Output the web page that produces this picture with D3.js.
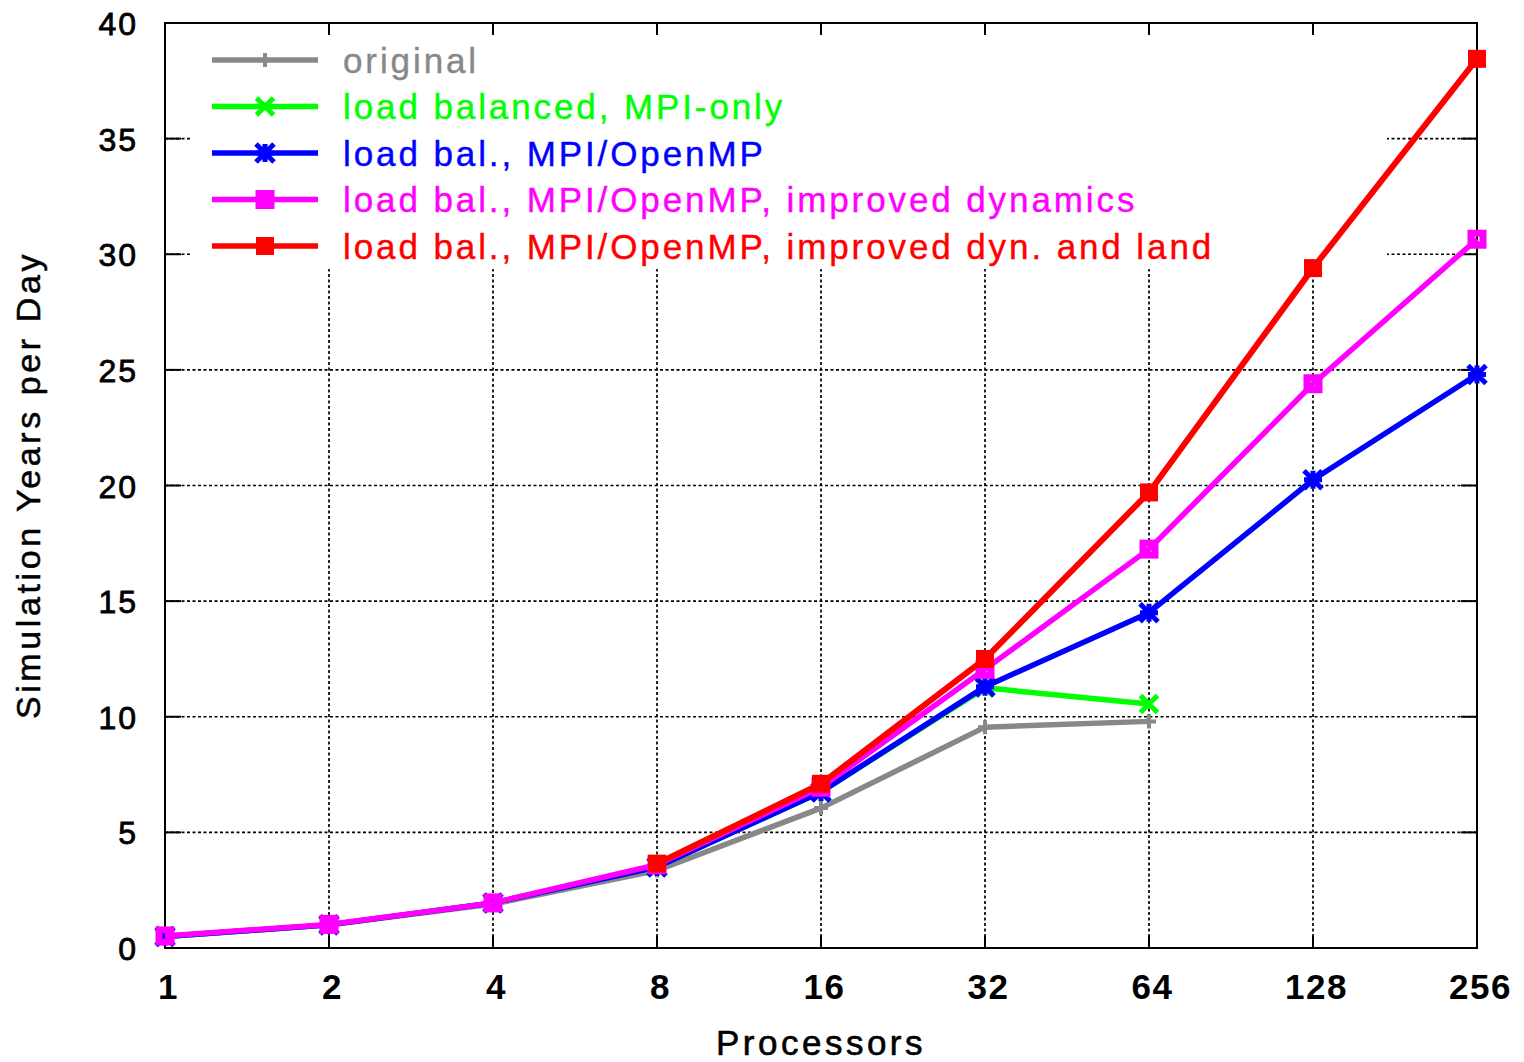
<!DOCTYPE html>
<html>
<head>
<meta charset="utf-8">
<script src="https://cdn.jsdelivr.net/npm/d3@7"></script>
<style>
html, body { margin: 0; padding: 0; background: #fff; }
svg { display: block; }
text { font-family: "Liberation Sans", Arial, sans-serif; }
</style>
</head>
<body>
<script>
// ---- data ----
const processors = [1, 2, 4, 8, 16, 32, 64, 128, 256];
const xTickLabels = ["1", "2", "4", "8", "16", "32", "64", "128", "256"];
const yTicks = [0, 5, 10, 15, 20, 25, 30, 35, 40];

const seriesNames = [
  "original",
  "load balanced, MPI-only",
  "load bal., MPI/OpenMP",
  "load bal., MPI/OpenMP, improved dynamics",
  "load bal., MPI/OpenMP, improved dyn. and land"
];
const seriesColors = ["#888888", "#00ff00", "#0000ff", "#ff00ff", "#ff0000"];
const seriesMarkers = ["plus", "cross", "star", "openbox", "box"];

const originalX = [1, 2, 4, 8, 16, 32, 64];
const originalY = [0.5, 1.0, 1.9, 3.35, 6.05, 9.55, 9.8];
const mpiOnlyX = [1, 2, 4, 8, 16, 32, 64];
const mpiOnlyY = [0.5, 1.0, 1.95, 3.5, 6.75, 11.25, 10.55];
const openmpX = [1, 2, 4, 8, 16, 32, 64, 128, 256];
const openmpY = [0.5, 1.0, 1.95, 3.5, 6.75, 11.3, 14.5, 20.25, 24.8];
const dynX = [1, 2, 4, 8, 16, 32, 64, 128, 256];
const dynY = [0.52, 1.02, 1.95, 3.6, 6.95, 12.05, 17.25, 24.4, 30.65];
const landX = [8, 16, 32, 64, 128, 256];
const landY = [3.65, 7.1, 12.5, 19.7, 29.4, 38.45];

const seriesX = [originalX, mpiOnlyX, openmpX, dynX, landX];
const seriesY = [originalY, mpiOnlyY, openmpY, dynY, landY];

// ---- layout ----
const W = 1524, H = 1062;
const L = 165, R = 1477, T = 23, B = 948;

const svg = d3.select("body").append("svg").attr("width", W).attr("height", H);

const x = d3.scaleLog().base(2).domain([1, 256]).range([L, R]);
const y = d3.scaleLinear().domain([0, 40]).range([B, T]);

// grid
const grid = svg.append("g").attr("stroke", "#000").attr("stroke-width", 1.7)
  .attr("stroke-dasharray", "3,2.5").attr("fill", "none");
processors.slice(1, -1).forEach(p => {
  grid.append("line").attr("x1", x(p)).attr("x2", x(p)).attr("y1", B).attr("y2", T);
});
yTicks.slice(1, -1).forEach(v => {
  grid.append("line").attr("x1", L).attr("x2", R).attr("y1", y(v)).attr("y2", y(v));
});

// key box mask
svg.append("rect").attr("x", 190).attr("y", T + 1).attr("width", 1387 - 190).attr("height", 268 - T)
  .attr("fill", "#fff");

// ticks (inward, all sides)
const ticks = svg.append("g").attr("stroke", "#000").attr("stroke-width", 2);
processors.forEach(p => {
  ticks.append("line").attr("x1", x(p)).attr("x2", x(p)).attr("y1", B).attr("y2", B - 12);
  ticks.append("line").attr("x1", x(p)).attr("x2", x(p)).attr("y1", T).attr("y2", T + 12);
});
yTicks.forEach(v => {
  ticks.append("line").attr("x1", L).attr("x2", L + 16).attr("y1", y(v)).attr("y2", y(v));
  ticks.append("line").attr("x1", R).attr("x2", R - 16).attr("y1", y(v)).attr("y2", y(v));
});

// frame
svg.append("rect").attr("x", L).attr("y", T).attr("width", R - L).attr("height", B - T)
  .attr("fill", "none").attr("stroke", "#000").attr("stroke-width", 2);

// axis labels via d3 axes (lines hidden)
const xAxis = svg.append("g").attr("transform", `translate(0,${B})`)
  .call(d3.axisBottom(x).tickValues(processors).tickFormat((d, i) => xTickLabels[i]).tickSize(0).tickPadding(0));
xAxis.select(".domain").remove();
xAxis.selectAll("text").attr("x", 3).attr("y", 51).attr("dy", null).attr("font-size", 35)
  .attr("font-weight", "bold").attr("fill", "#000").style("letter-spacing", "1.5px")
  .attr("font-family", "'Liberation Sans', Arial, sans-serif");

const yAxis = svg.append("g").attr("transform", `translate(${L},0)`)
  .call(d3.axisLeft(y).tickValues(yTicks).tickSize(0).tickPadding(0));
yAxis.select(".domain").remove();
yAxis.selectAll("text").attr("x", -27).attr("dy", "0.36em").attr("font-size", 32)
  .attr("fill", "#000").attr("stroke", "#000").attr("stroke-width", 0.8)
  .style("letter-spacing", "2px")
  .attr("font-family", "'Liberation Sans', Arial, sans-serif");

svg.append("text").attr("x", (L + R) / 2).attr("y", 1055).attr("text-anchor", "middle")
  .attr("font-size", 35).attr("fill", "#000").attr("stroke", "#000").attr("stroke-width", 0.6)
  .style("letter-spacing", "3.5px")
  .text("Processors");
svg.append("text").attr("transform", `translate(40,485) rotate(-90)`).attr("text-anchor", "middle")
  .attr("font-size", 34).attr("fill", "#000").attr("stroke", "#000").attr("stroke-width", 0.5)
  .style("letter-spacing", "3.6px")
  .text("Simulation Years per Day");

// markers
function drawMarker(g, type, cx, cy, color, s) {
  const h = s / 2;
  if (type === "plus") {
    g.append("path").attr("d", `M${cx - h},${cy}H${cx + h}M${cx},${cy - h}V${cy + h}`)
      .attr("stroke", color).attr("stroke-width", 4).attr("fill", "none");
  } else if (type === "cross") {
    g.append("path").attr("d", `M${cx - h},${cy - h}L${cx + h},${cy + h}M${cx - h},${cy + h}L${cx + h},${cy - h}`)
      .attr("stroke", color).attr("stroke-width", 5).attr("fill", "none");
  } else if (type === "star") {
    g.append("path").attr("d", `M${cx - h},${cy - h}L${cx + h},${cy + h}M${cx - h},${cy + h}L${cx + h},${cy - h}M${cx - h},${cy}H${cx + h}M${cx},${cy - h}V${cy + h}`)
      .attr("stroke", color).attr("stroke-width", 5).attr("fill", "none");
  } else if (type === "openbox") {
    g.append("rect").attr("x", cx - h + 3.5).attr("y", cy - h + 3.5).attr("width", s - 7).attr("height", s - 7)
      .attr("stroke", color).attr("stroke-width", 7).attr("fill", "none");
  } else {
    g.append("rect").attr("x", cx - h).attr("y", cy - h).attr("width", s).attr("height", s)
      .attr("fill", color);
  }
}

const line = d3.line().x(d => x(d[0])).y(d => y(d[1]));
const markerSizes = [14, 17, 18, 19, 18];
const lineWidths = [5.5, 5.5, 5.5, 5.5, 6];

seriesNames.forEach((name, i) => {
  const g = svg.append("g");
  const pts = seriesX[i].map((v, j) => [v, seriesY[i][j]]);
  g.append("path").datum(pts).attr("d", line).attr("fill", "none")
    .attr("stroke", seriesColors[i]).attr("stroke-width", lineWidths[i])
    .attr("stroke-linejoin", "round");
  pts.forEach(p => drawMarker(g, seriesMarkers[i], x(p[0]), y(p[1]), seriesColors[i], markerSizes[i]));
});

// legend
const legendY0 = 60, legendDy = 46.5;
seriesNames.forEach((name, i) => {
  const ly = legendY0 + i * legendDy;
  const g = svg.append("g");
  g.append("line").attr("x1", 212).attr("x2", 318).attr("y1", ly).attr("y2", ly)
    .attr("stroke", seriesColors[i]).attr("stroke-width", 5.5);
  drawMarker(g, seriesMarkers[i], 265, ly, seriesColors[i], markerSizes[i]);
  g.append("text").attr("x", 343).attr("y", ly).attr("dy", "0.36em").attr("font-size", 35)
    .attr("fill", seriesColors[i]).attr("stroke", seriesColors[i]).attr("stroke-width", 0.4)
    .style("letter-spacing", "2.9px").text(name);
});
</script>
</body>
</html>
